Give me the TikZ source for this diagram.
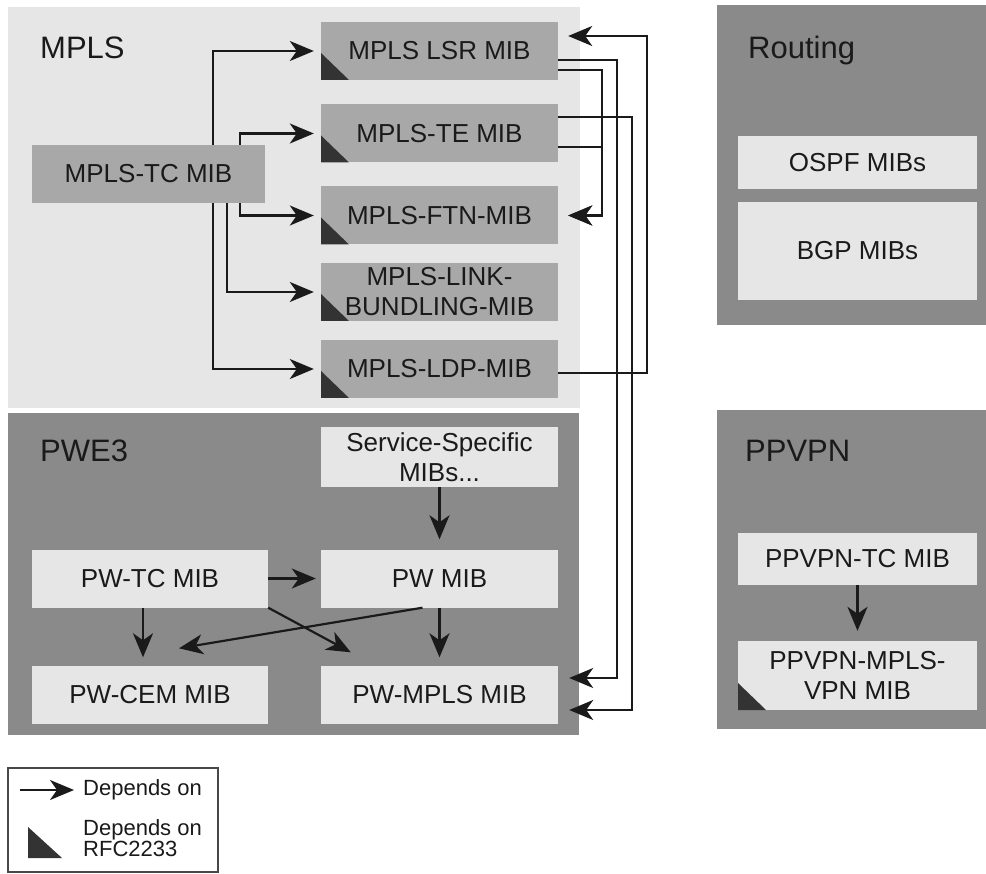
\documentclass[tikz,border=0pt]{standalone}
\usepackage{fontspec}
\setmainfont{Liberation Sans}
\usetikzlibrary{arrows.meta,positioning,calc}
\definecolor{paleg}{HTML}{E6E6E6}
\definecolor{midg}{HTML}{A8A8A8}
\definecolor{darkg}{HTML}{8A8A8A}
\definecolor{trig}{HTML}{333333}
\definecolor{ink}{HTML}{1A1A1A}

\begin{document}
\begin{tikzpicture}[x=1pt, y=-1pt,
  ttl/.style={font=\fontsize{31}{34}\selectfont, text=ink, anchor=base west, inner sep=0pt},
  mib/.style={fill=#1, text=ink, minimum width=237pt, minimum height=58pt, inner sep=0pt,
              align=center, font=\fontsize{26}{30}\selectfont},
  mib/.default=paleg,
  rfc/.style={path picture={\fill[trig] (path picture bounding box.south west)
              -- ++(0pt,27pt) -- ++(28pt,-27pt) -- cycle;}},
  dep/.style={draw=ink, line width=2.2pt, -{Stealth[length=24pt,width=20pt,inset=7pt]}},
  leg/.style={font=\fontsize{22}{21}\selectfont, text=ink, anchor=west, inner sep=0pt, align=left}]

\useasboundingbox (0,0) rectangle (986,874);

\def\xm{439.5}    % MPLS / PWE3 right column
\def\xl{150}      % PWE3 left column
\def\xr{857.5}    % Routing / PPVPN column

% ---------------------------------------------------------------- areas
\fill[paleg] (8,7) rectangle (580,408);
\fill[darkg] (8,413) rectangle (579,735);
\fill[darkg] (717,5) rectangle (986,325);
\fill[darkg] (717,410) rectangle (986,729);

\node[ttl] (tmpls)  at (40,59)   {MPLS};
\node[ttl] (tpwe)   at (40,462)  {PWE3};
\node[ttl] (trout)  at (748,59)  {Routing};
\node[ttl] (tppvpn) at (745,462) {PPVPN};

% ================================================================ MPLS
\node[mib=midg, minimum width=233pt] (tc) at (148.5,174) {MPLS-TC MIB};
\node[mib=midg, rfc] (lsr)  at (\xm,51)    {MPLS LSR MIB};
\node[mib=midg, rfc] (te)   at (\xm,133.5) {MPLS-TE MIB};
\node[mib=midg, rfc] (ftn)  at (\xm,215.5) {MPLS-FTN-MIB};
\node[mib=midg, rfc] (link) at (\xm,292)   {MPLS-LINK-\\BUNDLING-MIB};
\node[mib=midg, rfc] (ldp)  at (\xm,369)   {MPLS-LDP-MIB};

\draw[dep] ([xshift=64.5pt]tc.north) |- ([xshift=-7pt]lsr.west);
\draw[dep] ([xshift=64.5pt]tc.south) |- ([xshift=-7pt]ldp.west);
\draw[dep] ([xshift=91.5pt]tc.north) |- ([xshift=-7pt]te.west);
\draw[dep] ([xshift=91.5pt]tc.south) |- ([xshift=-7pt]ftn.west);
\draw[dep] ([xshift=78.5pt]tc.south) |- ([xshift=-7pt]link.west);

% ================================================================ PWE3
\node[mib, minimum height=60pt] (svc) at (\xm,457) {Service-Specific\\MIBs...};
\node[mib, minimum width=236pt] (pwtc)   at (\xl,578.5) {PW-TC MIB};
\node[mib]                      (pw)     at (\xm,578.5) {PW MIB};
\node[mib, minimum width=236pt] (pwcem)  at (\xl,694.5) {PW-CEM MIB};
\node[mib]                      (pwmpls) at (\xm,694.5) {PW-MPLS MIB};

\draw[dep] (svc.south) -- ([yshift=10pt]pw.north);
\draw[dep] (pwtc.east) -- ([xshift=-5pt]pw.west);
\draw[dep] ([xshift=-7pt]pwtc.south) -- ([xshift=-7pt,yshift=8pt]pwcem.north);
\draw[dep] (pwtc.south east) -- ([xshift=30pt,yshift=13pt]pwmpls.north west);
\draw[dep] ([xshift=-17pt]pw.south) -- ([xshift=29pt,yshift=17pt]pwcem.north);
\draw[dep] (pw.south) -- ([yshift=8pt]pwmpls.north);

% ---------------------------------------------------------------- MPLS to PWE3
\draw[dep] ([yshift=-4pt]ldp.east) -- ++(89,0) |- ([xshift=10pt,yshift=15pt]lsr.east);
\draw[dep] ([yshift=-19pt]lsr.east) -- ++(44,0) |- ([xshift=10pt]ftn.east);
\draw[dep] ([yshift=-13.5pt]te.east) -- ++(44,0) |- ([xshift=10pt]ftn.east);
\draw[dep] ([yshift=-9pt]lsr.east) -- ++(59,0) |- ([xshift=11pt,yshift=16.5pt]pwmpls.east);
\draw[dep] ([yshift=16.5pt]te.east) -- ++(74,0) |- ([xshift=11pt,yshift=-15.5pt]pwmpls.east);

% ================================================================ Routing
\node[mib, minimum width=239pt, minimum height=53pt] (ospf) at (\xr,162.5) {OSPF MIBs};
\node[mib, minimum width=239pt, minimum height=98pt] (bgp)  at (\xr,251)   {BGP MIBs};

% ================================================================ PPVPN
\node[mib, minimum width=239pt, minimum height=52pt] (ppvtc) at (\xr,559) {PPVPN-TC MIB};
\node[mib, rfc, minimum width=239pt, minimum height=69pt] (ppvmpls) at (\xr,675.5)
  {PPVPN-MPLS-\\VPN MIB};
\draw[dep] (ppvtc.south) -- ([yshift=10pt]ppvmpls.north);

% ---------------------------------------------------------------- legend
\node[draw=ink!80, line width=1.2pt, minimum width=210pt, minimum height=104pt,
      inner sep=0pt] (legend) at (113,820) {};
\node[leg] (legdep) at (83,790) {Depends on};
\node[leg] (legrfc) at (83,838) {Depends on\\RFC2233};
\coordinate (legtail) at (20,790);
\draw[dep] (legtail) -- ([xshift=-9pt]legdep.west);
\fill[trig] (28,858) -- (28,827) -- (62,858) -- cycle;

\end{tikzpicture}
\end{document}
